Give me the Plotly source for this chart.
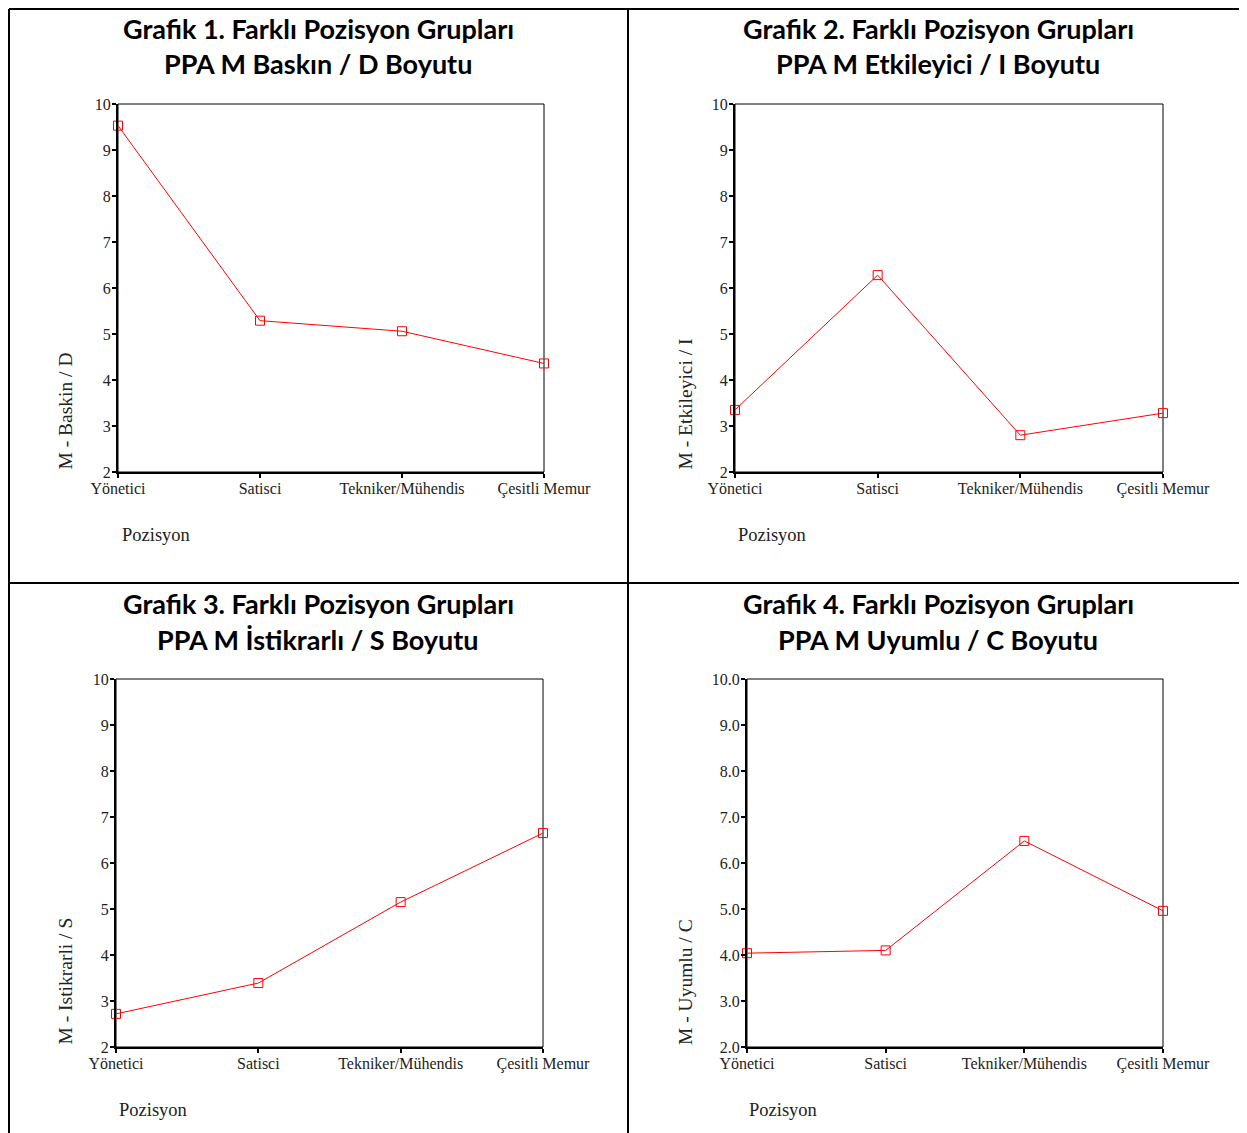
import plotly.graph_objects as go

W, H = 1247, 1133
OFF = 8  # page body margin

categories = ["Yönetici", "Satisci", "Tekniker/Mühendis", "Çesitli Memur"]

baskin_d = [9.53, 5.29, 5.06, 4.36]
etkileyici_i = [3.35, 6.28, 2.80, 3.28]
istikrarli_s = [2.72, 3.39, 5.15, 6.65]
uyumlu_c = [4.04, 4.10, 6.48, 4.96]

y_ticks = [2, 3, 4, 5, 6, 7, 8, 9, 10]

titles_line1 = ["Grafik 1. Farklı Pozisyon Grupları", "Grafik 2. Farklı Pozisyon Grupları",
                "Grafik 3. Farklı Pozisyon Grupları", "Grafik 4. Farklı Pozisyon Grupları"]
titles_line2 = ["PPA M Baskın / D Boyutu", "PPA M Etkileyici / I Boyutu",
                "PPA M İstikrarlı / S Boyutu", "PPA M Uyumlu / C Boyutu"]
y_titles = ["M - Baskin / D", "M - Etkileyici / I", "M - Istikrarli / S", "M - Uyumlu / C"]
x_title = "Pozisyon"

series = [baskin_d, etkileyici_i, istikrarli_s, uyumlu_c]
tick_formats = ["d", "d", "d", ".1f"]


def px_x(p):
    return (p - OFF) / W


def px_y(p):
    return 1 - (p - OFF) / H


# layout geometry in page pixels (left, right, top, bottom)
boxes = [(118, 544, 104, 472), (735, 1163, 104, 472), (116, 543, 679, 1047), (747, 1163, 679, 1047)]
title_cx = [318, 938, 318, 938]
title_y1 = [28, 28, 603, 603]
ytitle_x = [65, 685, 65, 685]
xtitle_x = [120, 736, 117, 747]
xtitle_y = [535, 535, 1110, 1110]

serif = "Liberation Serif, Times New Roman, serif"
sans = "Lato, Open Sans, sans-serif"

fig = go.Figure()
layout = dict(width=W, height=H, margin=dict(l=0, r=0, t=0, b=0, pad=0, autoexpand=False),
              paper_bgcolor="white", plot_bgcolor="white", showlegend=False)
annotations = []
shapes = []

for i in range(4):
    n = "" if i == 0 else str(i + 1)
    xa, ya = "x" + n, "y" + n
    l, r, t, b = boxes[i]
    fig.add_trace(go.Scatter(
        x=categories, y=series[i], xaxis=xa, yaxis=ya, mode="lines+markers",
        line=dict(color="#ff0000", width=1),
        marker=dict(symbol="square-open", size=9, color="#ff0000", line=dict(width=1)),
        cliponaxis=False, hoverinfo="skip"))
    layout["xaxis" + n] = dict(
        domain=[px_x(l), px_x(r)], anchor=ya, type="category", range=[0, 3],
        automargin=False, ticklabelstandoff=-3,
        showgrid=False, zeroline=False, showline=True, linecolor="black", linewidth=2,
        ticks="outside", ticklen=4, tickwidth=2, tickcolor="black",
        tickfont=dict(family=serif, size=16, color="#222"), fixedrange=True)
    layout["yaxis" + n] = dict(
        domain=[px_y(b), px_y(t)], anchor=xa, range=[2, 10],
        automargin=False, ticklabelstandoff=-2,
        tickvals=y_ticks, tickformat=tick_formats[i],
        showgrid=False, zeroline=False, showline=True, linecolor="black", linewidth=2,
        ticks="outside", ticklen=4, tickwidth=2, tickcolor="black",
        tickfont=dict(family=serif, size=16, color="#222"), fixedrange=True)
    # thin frame top/right
    shapes.append(dict(type="rect", xref=xa + " domain", yref=ya + " domain",
                       x0=0, x1=1, y0=0, y1=1, line=dict(color="black", width=1), layer="below"))
    # titles
    annotations.append(dict(text="<b>" + titles_line1[i] + "</b>", xref="paper", yref="paper",
                            x=px_x(title_cx[i]), y=px_y(title_y1[i]), xanchor="center", yanchor="middle",
                            showarrow=False, font=dict(family=sans, size=27, color="black")))
    annotations.append(dict(text="<b>" + titles_line2[i] + "</b>", xref="paper", yref="paper",
                            x=px_x(title_cx[i]), y=px_y(title_y1[i] + 36), xanchor="center", yanchor="middle",
                            showarrow=False, font=dict(family=sans, size=27, color="black")))
    annotations.append(dict(text=y_titles[i], xref="paper", yref="paper", textangle=-90,
                            x=px_x(ytitle_x[i]), y=px_y(b), xanchor="center", yanchor="bottom",
                            showarrow=False, font=dict(family=serif, size=19.5, color="#222")))
    annotations.append(dict(text=x_title, xref="paper", yref="paper",
                            x=px_x(xtitle_x[i]), y=px_y(xtitle_y[i]), xanchor="left", yanchor="middle",
                            showarrow=False, font=dict(family=serif, size=18.5, color="#222")))

# outer table lines (page pixels)
for (x0, y0, x1, y1) in [(9, 9, W + OFF, 9), (9, 9, 9, H + OFF), (628, 9, 628, H + OFF), (9, 583, W + OFF, 583)]:
    shapes.append(dict(type="line", xref="paper", yref="paper",
                       x0=px_x(x0), y0=px_y(y0), x1=px_x(x1), y1=px_y(y1),
                       line=dict(color="black", width=2)))

layout["annotations"] = annotations
layout["shapes"] = shapes
fig.update_layout(**layout)
fig.write_html("out.html")
